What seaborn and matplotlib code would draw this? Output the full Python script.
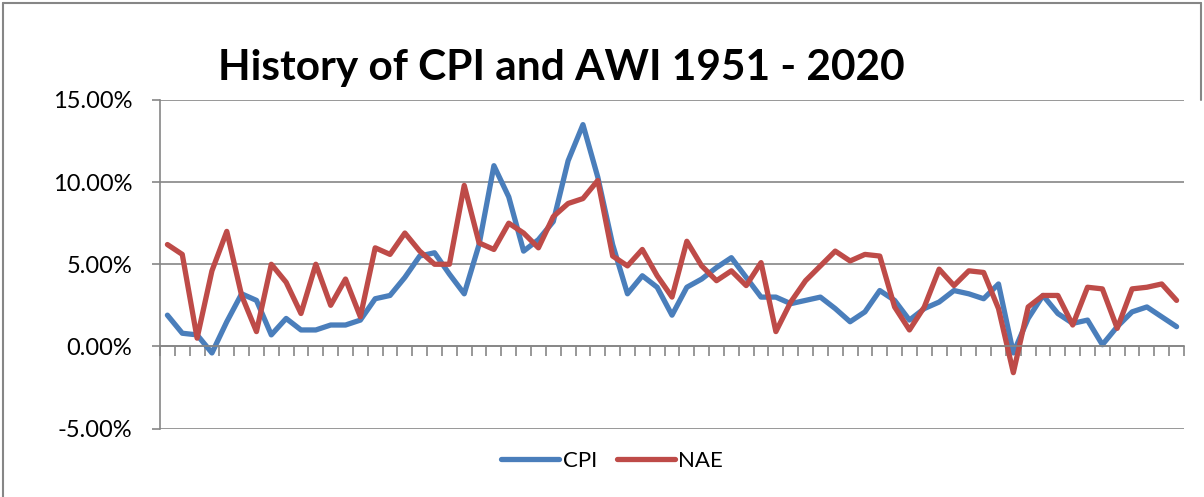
import pandas as pd
import numpy as np
import matplotlib
matplotlib.use("Agg")
import matplotlib.pyplot as plt
from matplotlib.lines import Line2D
from matplotlib.ticker import PercentFormatter
import seaborn as sns

# Data (annual % change)
years = list(range(1952, 2021))
cpi = [1.9, 0.8, 0.7, -0.4, 1.5, 3.2, 2.8, 0.7, 1.7, 1.0,
       1.0, 1.3, 1.3, 1.6, 2.9, 3.1, 4.2, 5.5, 5.7, 4.4,
       3.2, 6.2, 11.0, 9.1, 5.8, 6.5, 7.6, 11.3, 13.5, 10.3,
       6.2, 3.2, 4.3, 3.6, 1.9, 3.6, 4.1, 4.8, 5.4, 4.2,
       3.0, 3.0, 2.6, 2.8, 3.0, 2.3, 1.5, 2.1, 3.4, 2.8,
       1.6, 2.3, 2.7, 3.4, 3.2, 2.9, 3.8, -0.4, 1.7, 3.1,
       2.0, 1.4, 1.6, 0.1, 1.2, 2.1, 2.4, 1.8, 1.2]
nae = [6.2, 5.6, 0.5, 4.6, 7.0, 3.1, 0.9, 5.0, 3.9, 2.0,
       5.0, 2.5, 4.1, 1.8, 6.0, 5.6, 6.9, 5.8, 5.0, 5.0,
       9.8, 6.3, 5.9, 7.5, 6.9, 6.0, 7.9, 8.7, 9.0, 10.1,
       5.5, 4.9, 5.9, 4.3, 3.0, 6.4, 4.9, 4.0, 4.6, 3.7,
       5.1, 0.9, 2.7, 4.0, 4.9, 5.8, 5.2, 5.6, 5.5, 2.4,
       1.0, 2.4, 4.7, 3.7, 4.6, 4.5, 2.3, -1.6, 2.4, 3.1,
       3.1, 1.3, 3.6, 3.5, 1.1, 3.5, 3.6, 3.8, 2.8]
series_names = ["CPI", "NAE"]
colors = {"CPI": "#4A7EBB", "NAE": "#BE4B48"}

df = pd.DataFrame({
    "year": years * 2,
    "value": cpi + nae,
    "series": ["CPI"] * len(years) + ["NAE"] * len(years),
})

sns.set_style("white")
plt.rcParams["font.family"] = ["Lato", "DejaVu Sans"]
plt.rcParams["axes.unicode_minus"] = False
plt.rcParams["text.color"] = "black"

grid_col = "#868686"

fig = plt.figure(figsize=(12.04, 4.97), dpi=100)
ax = fig.add_axes([160 / 1204, 1 - 428.5 / 497, 1024 / 1204, 328.5 / 497])

sns.lineplot(data=df, x="year", y="value", hue="series", hue_order=series_names,
             palette=colors, linewidth=3.8, ax=ax,
             solid_joinstyle="round", solid_capstyle="round")

ax.set_xlim(years[0] - 0.5, years[-1] + 0.5)
ax.set_ylim(-5, 15)
ax.set_yticks([-5, 0, 5, 10, 15])
ax.yaxis.set_major_formatter(PercentFormatter(xmax=100, decimals=2))
ax.set_xticks(np.arange(years[0] - 0.5, years[-1] + 1, 1))
ax.set_xticklabels([])
ax.set_xlabel("")
ax.set_ylabel("")

ax.grid(True, axis="y", color=grid_col, linewidth=1.2)
ax.set_axisbelow(True)
for s in ["top", "right"]:
    ax.spines[s].set_visible(False)
ax.spines["bottom"].set_position(("data", 0))
for s in ["left", "bottom"]:
    ax.spines[s].set_color(grid_col)
    ax.spines[s].set_linewidth(1.2)
ax.tick_params(axis="y", direction="out", length=6, width=1.2, color=grid_col,
               labelsize=17, labelcolor="black", pad=14, left=True)
ax.tick_params(axis="x", direction="out", length=7.5, width=1.2, color=grid_col,
               bottom=True)

# legend at the bottom centre
leg = ax.get_legend()
handles = leg.legend_handles
labels = [t.get_text() for t in leg.get_texts()]
leg.remove()
for h in handles:
    h.set_linewidth(3.8)
    h.set_solid_capstyle("round")
fig.legend(handles, labels, loc="center", bbox_to_anchor=(612 / 1204, 1 - 461 / 497),
           ncol=2, frameon=False, fontsize=16, handlelength=2.6,
           handletextpad=0.15, columnspacing=0.9, labelcolor="black")

fig.text(561 / 1204, 1 - 80 / 497, "History of CPI and AWI 1951 - 2020",
         ha="center", va="baseline", fontsize=30.5, fontweight="bold", color="black")

# chart border
fig.add_artist(Line2D([3 / 1204, 3 / 1204], [0, 1 - 3 / 497], color=grid_col, lw=1.5))
fig.add_artist(Line2D([3 / 1204, 1201 / 1204], [1 - 3 / 497, 1 - 3 / 497], color=grid_col, lw=1.5))
fig.add_artist(Line2D([1201 / 1204, 1201 / 1204], [1 - 100 / 497, 1 - 3 / 497], color=grid_col, lw=1.5))

fig.savefig("out.png", dpi=100)
